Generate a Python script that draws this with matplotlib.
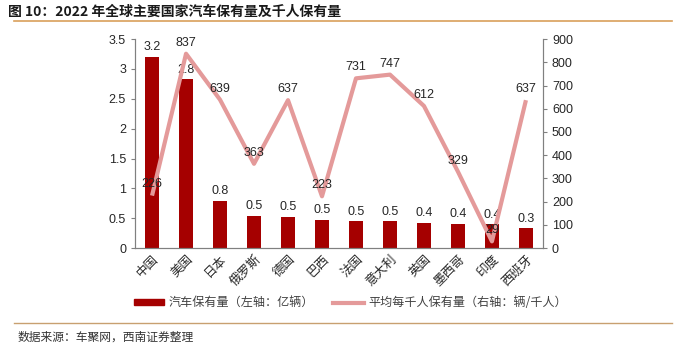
import matplotlib
matplotlib.use("Agg")
import matplotlib.pyplot as plt
from matplotlib.lines import Line2D
from matplotlib.patches import Patch
import numpy as np

plt.rcParams['font.family'] = ['Liberation Sans', 'Noto Sans CJK SC', 'DejaVu Sans']
plt.rcParams['axes.unicode_minus'] = False

countries = ["中国", "美国", "日本", "俄罗斯", "德国", "巴西", "法国", "意大利", "英国", "墨西哥", "印度", "西班牙"]
stock_100m = [3.2, 2.83, 0.79, 0.54, 0.52, 0.47, 0.45, 0.45, 0.42, 0.41, 0.40, 0.33]
per_thousand = [226, 837, 639, 363, 637, 223, 731, 747, 612, 329, 29, 637]

bar_color = "#A50000"
line_color = "#E49A9A"
axis_color = "#808080"
text_color = "#262626"
cjk = ['Noto Sans CJK SC', 'DejaVu Sans']

fig = plt.figure(figsize=(6.89, 3.46), dpi=100)
ax = fig.add_axes([0.196, 0.283, 0.592, 0.604])
ax2 = ax.twinx()

x = np.arange(len(countries))
ax.bar(x, stock_100m, width=0.42, color=bar_color, zorder=2)
for xi, v in zip(x, stock_100m):
    ax.text(xi, v + 0.06, f"{v:.1f}", ha="center", va="bottom", fontsize=9,
            color=text_color)

ax2.plot(x, per_thousand, color=line_color, lw=3, solid_capstyle="butt", zorder=3)
for xi, v in zip(x, per_thousand):
    ax2.text(xi, v + 22, f"{v}", ha="center", va="bottom", fontsize=9,
             color=text_color, zorder=4)

ax.set_xlim(-0.5, len(countries) - 0.5)
ax.set_ylim(0, 3.5)
ticks_left = np.arange(0, 3.51, 0.5)
ax.set_yticks(ticks_left)
ax.set_yticklabels([f"{t:g}" for t in ticks_left])
ax2.set_ylim(0, 900)
ax2.set_yticks(np.arange(0, 901, 100))

ax.set_xticks(x)
ax.set_xticklabels(countries, rotation=45, ha="right", rotation_mode="anchor",
                   fontsize=9.5, family=cjk)

for a in (ax, ax2):
    for s in a.spines.values():
        s.set_color(axis_color)
    a.spines["top"].set_visible(False)
    a.tick_params(colors=text_color, labelsize=9, length=3, color=axis_color)
ax.tick_params(axis="x", length=0, pad=3)

# legend
handles = [Patch(color=bar_color), Line2D([], [], color=line_color, lw=3)]
labels = ["汽车保有量（左轴：亿辆）", "平均每千人保有量（右轴：辆/千人）"]
fig.legend(handles, labels, loc="center left", bbox_to_anchor=(0.178, 0.125), ncol=2,
           frameon=False, prop={"family": cjk, "size": 8.7}, handlelength=2.5,
           handleheight=0.35, handletextpad=0.4, columnspacing=1.6,
           labelcolor="#404040")

# title and source
fig.text(0.012, 0.985, "图 10：2022 年全球主要国家汽车保有量及千人保有量", fontsize=10,
         fontweight="bold", va="top", ha="left", color="#1a1a1a", family=cjk)
fig.add_artist(Line2D([0.02, 0.975], [0.938, 0.938], color="#D9A05B", lw=1.2))
fig.add_artist(Line2D([0.02, 0.975], [0.066, 0.066], color="#C8A070", lw=1.0))
fig.text(0.025, 0.025, "数据来源：车聚网，西南证券整理", fontsize=8.5, style="italic",
         va="center", ha="left", color="#333333", family=cjk)

fig.savefig("out.png", dpi=100)
